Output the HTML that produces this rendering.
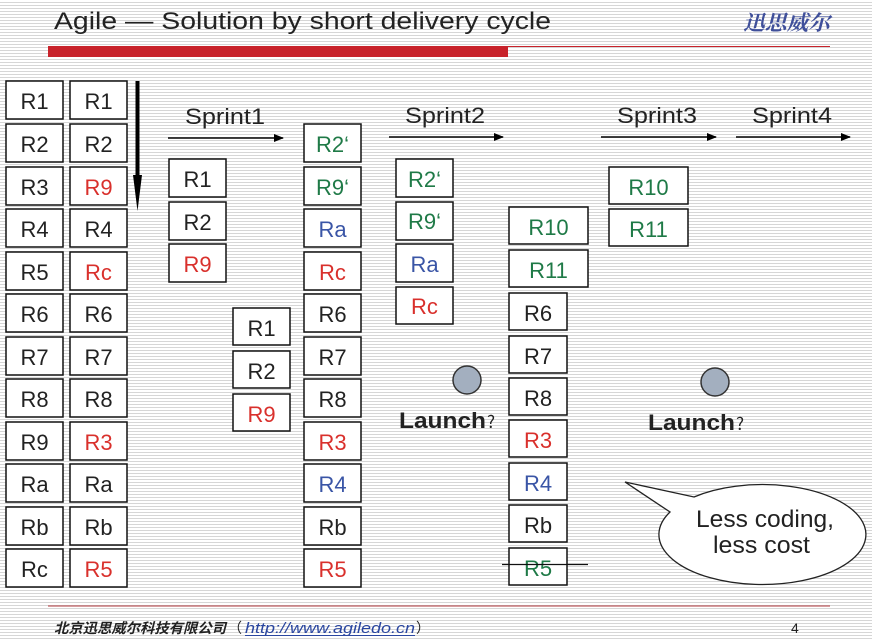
<!DOCTYPE html>
<html><head><meta charset="utf-8"><style>
html,body{margin:0;padding:0;width:872px;height:639px;overflow:hidden;background:#fff;}
svg{display:block;}
</style></head><body>
<svg width="872" height="639" viewBox="0 0 872 639" xmlns="http://www.w3.org/2000/svg" font-family="'Liberation Sans', sans-serif">
<defs>
<pattern id="st" x="0" y="0" width="8" height="3" patternUnits="userSpaceOnUse">
<rect width="8" height="3" fill="#ffffff"/>
<rect y="2" width="8" height="1" fill="#d6d6d6"/>
</pattern>
<marker id="ah" markerWidth="10" markerHeight="8" refX="9" refY="4" orient="auto" markerUnits="userSpaceOnUse">
<path d="M0,0 L10,4 L0,8 Z" fill="#000"/>
</marker>
</defs>
<rect width="872" height="639" fill="url(#st)"/>

<!-- Title -->
<text x="54" y="29" font-size="24" fill="#222" textLength="497" lengthAdjust="spacingAndGlyphs">Agile — Solution by short delivery cycle</text>
<text x="743" y="30" font-size="21" font-weight="bold" font-style="italic" fill="#3f4f9a" font-family="'Noto Serif CJK SC','Noto Sans CJK SC',serif" textLength="87" lengthAdjust="spacingAndGlyphs">迅思威尔</text>
<rect x="48" y="46" width="460" height="11" fill="#c8232b"/>
<line x1="508" y1="46.5" x2="830" y2="46.5" stroke="#c8232b" stroke-width="1"/>

<!-- vertical thick arrow -->
<line x1="137.5" y1="81" x2="137.5" y2="180" stroke="#000" stroke-width="4"/>
<path d="M133,175 L142,175 L137.5,211 Z" fill="#000"/>

<g stroke="#111" stroke-width="1.5" fill="#fff">
<!-- col1 -->
<rect x="6" y="81" width="57" height="38"/><rect x="6" y="124" width="57" height="38"/>
<rect x="6" y="167" width="57" height="38"/><rect x="6" y="209" width="57" height="38"/>
<rect x="6" y="252" width="57" height="38"/><rect x="6" y="294" width="57" height="38"/>
<rect x="6" y="337" width="57" height="38"/><rect x="6" y="379" width="57" height="38"/>
<rect x="6" y="422" width="57" height="38"/><rect x="6" y="464" width="57" height="38"/>
<rect x="6" y="507" width="57" height="38"/><rect x="6" y="549" width="57" height="38"/>
<!-- col2 -->
<rect x="70" y="81" width="57" height="38"/><rect x="70" y="124" width="57" height="38"/>
<rect x="70" y="167" width="57" height="38"/><rect x="70" y="209" width="57" height="38"/>
<rect x="70" y="252" width="57" height="38"/><rect x="70" y="294" width="57" height="38"/>
<rect x="70" y="337" width="57" height="38"/><rect x="70" y="379" width="57" height="38"/>
<rect x="70" y="422" width="57" height="38"/><rect x="70" y="464" width="57" height="38"/>
<rect x="70" y="507" width="57" height="38"/><rect x="70" y="549" width="57" height="38"/>
<!-- sprint1 group -->
<rect x="169" y="159" width="57" height="38"/><rect x="169" y="202" width="57" height="38"/><rect x="169" y="244" width="57" height="38"/>
<!-- group2 -->
<rect x="233" y="308" width="57" height="37"/><rect x="233" y="351" width="57" height="37"/><rect x="233" y="394" width="57" height="37"/>
<!-- col3 -->
<rect x="304" y="124" width="57" height="38"/><rect x="304" y="167" width="57" height="38"/>
<rect x="304" y="209" width="57" height="38"/><rect x="304" y="252" width="57" height="38"/>
<rect x="304" y="294" width="57" height="38"/><rect x="304" y="337" width="57" height="38"/>
<rect x="304" y="379" width="57" height="38"/><rect x="304" y="422" width="57" height="38"/>
<rect x="304" y="464" width="57" height="38"/><rect x="304" y="507" width="57" height="38"/>
<rect x="304" y="549" width="57" height="38"/>
<!-- col4 -->
<rect x="396" y="159" width="57" height="38"/><rect x="396" y="202" width="57" height="38"/>
<rect x="396" y="244" width="57" height="38"/><rect x="396" y="287" width="57" height="37"/>
<!-- col5 -->
<rect x="509" y="207" width="79" height="37"/><rect x="509" y="250" width="79" height="37"/>
<rect x="509" y="293" width="58" height="37"/><rect x="509" y="336" width="58" height="37"/>
<rect x="509" y="378" width="58" height="37"/><rect x="509" y="420" width="58" height="37"/>
<rect x="509" y="463" width="58" height="37"/><rect x="509" y="505" width="58" height="37"/>
<rect x="509" y="548" width="58" height="37"/>
<!-- col6 -->
<rect x="609" y="167" width="79" height="37"/><rect x="609" y="209" width="79" height="37"/>
</g>

<g font-size="22" text-anchor="middle" fill="#222">
<!-- col1 -->
<text x="34.5" y="109">R1</text><text x="34.5" y="152">R2</text><text x="34.5" y="195">R3</text>
<text x="34.5" y="237">R4</text><text x="34.5" y="280">R5</text><text x="34.5" y="322">R6</text>
<text x="34.5" y="365">R7</text><text x="34.5" y="407">R8</text><text x="34.5" y="450">R9</text>
<text x="34.5" y="492">Ra</text><text x="34.5" y="535">Rb</text><text x="34.5" y="577">Rc</text>
<!-- col2 -->
<text x="98.5" y="109">R1</text><text x="98.5" y="152">R2</text><text x="98.5" y="195" fill="#d9302c">R9</text>
<text x="98.5" y="237">R4</text><text x="98.5" y="280" fill="#d9302c">Rc</text><text x="98.5" y="322">R6</text>
<text x="98.5" y="365">R7</text><text x="98.5" y="407">R8</text><text x="98.5" y="450" fill="#d9302c">R3</text>
<text x="98.5" y="492">Ra</text><text x="98.5" y="535">Rb</text><text x="98.5" y="577" fill="#d9302c">R5</text>
<!-- sprint1 group -->
<text x="197.5" y="187">R1</text><text x="197.5" y="230">R2</text><text x="197.5" y="272" fill="#d9302c">R9</text>
<!-- group2 -->
<text x="261.5" y="336">R1</text><text x="261.5" y="379">R2</text><text x="261.5" y="422" fill="#d9302c">R9</text>
<!-- col3 -->
<text x="332.5" y="152" fill="#1f7a47">R2‘</text><text x="332.5" y="195" fill="#1f7a47">R9‘</text>
<text x="332.5" y="237" fill="#3a55a6">Ra</text><text x="332.5" y="280" fill="#d9302c">Rc</text>
<text x="332.5" y="322">R6</text><text x="332.5" y="365">R7</text><text x="332.5" y="407">R8</text>
<text x="332.5" y="450" fill="#d9302c">R3</text><text x="332.5" y="492" fill="#3a55a6">R4</text>
<text x="332.5" y="535">Rb</text><text x="332.5" y="577" fill="#d9302c">R5</text>
<!-- col4 -->
<text x="424.5" y="187" fill="#1f7a47">R2‘</text><text x="424.5" y="229" fill="#1f7a47">R9‘</text>
<text x="424.5" y="272" fill="#3a55a6">Ra</text><text x="424.5" y="314" fill="#d9302c">Rc</text>
<!-- col5 -->
<text x="548.5" y="235" fill="#1f7a47">R10</text><text x="548.5" y="278" fill="#1f7a47">R11</text>
<text x="538" y="321">R6</text><text x="538" y="364">R7</text><text x="538" y="406">R8</text>
<text x="538" y="448" fill="#d9302c">R3</text><text x="538" y="491" fill="#3a55a6">R4</text>
<text x="538" y="533">Rb</text><text x="538" y="576" fill="#1f7a47">R5</text>
<!-- col6 -->
<text x="648.5" y="195" fill="#1f7a47">R10</text><text x="648.5" y="237" fill="#1f7a47">R11</text>
</g>
<line x1="502" y1="564.5" x2="588" y2="564.5" stroke="#111" stroke-width="1.2"/>

<!-- Sprint labels and arrows -->
<g font-size="22" fill="#222">
<text x="185" y="124" textLength="80" lengthAdjust="spacingAndGlyphs">Sprint1</text>
<text x="405" y="123" textLength="80" lengthAdjust="spacingAndGlyphs">Sprint2</text>
<text x="617" y="123" textLength="80" lengthAdjust="spacingAndGlyphs">Sprint3</text>
<text x="752" y="123" textLength="80" lengthAdjust="spacingAndGlyphs">Sprint4</text>
</g>
<g stroke="#000" stroke-width="1.5" marker-end="url(#ah)">
<line x1="168" y1="138" x2="283" y2="138"/>
<line x1="389" y1="137" x2="503" y2="137"/>
<line x1="601" y1="137" x2="716" y2="137"/>
<line x1="736" y1="137" x2="850" y2="137"/>
</g>

<!-- circles -->
<circle cx="467" cy="380" r="14" fill="#a3afbf" stroke="#333" stroke-width="1.5"/>
<circle cx="715" cy="382" r="14" fill="#a3afbf" stroke="#333" stroke-width="1.5"/>

<!-- Launch labels -->
<text x="399" y="428" font-size="22" font-weight="bold" fill="#222" textLength="87" lengthAdjust="spacingAndGlyphs">Launch</text>
<text x="487" y="428" font-size="17" fill="#222" font-family="'Noto Sans CJK SC',sans-serif">?</text>
<text x="648" y="430" font-size="22" font-weight="bold" fill="#222" textLength="87" lengthAdjust="spacingAndGlyphs">Launch</text>
<text x="736" y="430" font-size="17" fill="#222" font-family="'Noto Sans CJK SC',sans-serif">?</text>

<!-- callout -->
<path d="M694,497 A103.5,50 0 1 1 670,512 L625,482 Z" fill="#fff" stroke="#222" stroke-width="1.3" stroke-linejoin="miter"/>
<g font-size="24" fill="#222">
<text x="696" y="527" textLength="138" lengthAdjust="spacingAndGlyphs">Less coding,</text>
<text x="713" y="553" textLength="97" lengthAdjust="spacingAndGlyphs">less cost</text>
</g>

<!-- footer -->
<line x1="48" y1="606" x2="830" y2="606" stroke="#b0383c" stroke-width="1"/>
<text x="54" y="633" font-size="14" font-style="italic" font-weight="bold" fill="#222" font-family="'Noto Sans CJK SC',sans-serif" textLength="172" lengthAdjust="spacingAndGlyphs">北京迅思威尔科技有限公司</text>
<text x="228" y="633" font-size="14" fill="#222" font-family="'Noto Sans CJK SC',sans-serif">（</text>
<text x="245" y="633" font-size="15" font-style="italic" fill="#2a46a0" textLength="170" lengthAdjust="spacingAndGlyphs">http://www.agiledo.cn</text>
<line x1="245" y1="635.5" x2="415" y2="635.5" stroke="#2a46a0" stroke-width="1"/>
<text x="416" y="633" font-size="14" fill="#222" font-family="'Noto Sans CJK SC',sans-serif">）</text>
<text x="791" y="633" font-size="14" fill="#222">4</text>
</svg>
</body></html>
